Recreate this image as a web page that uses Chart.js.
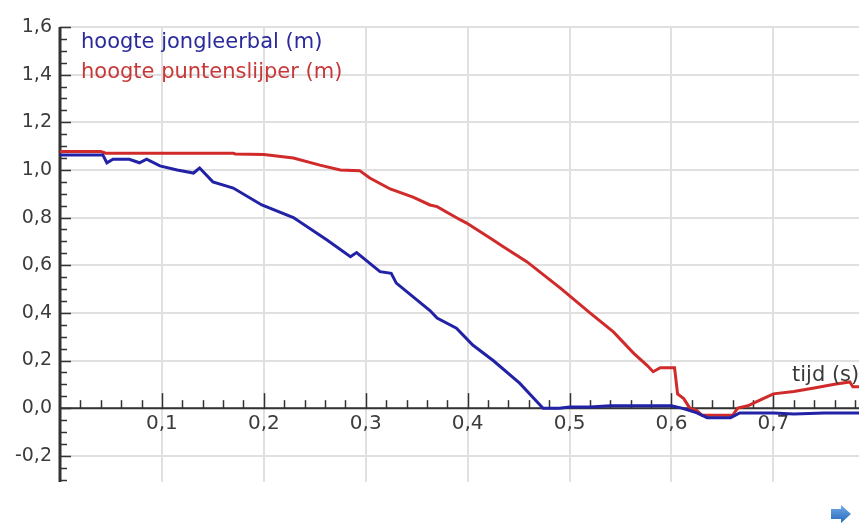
<!DOCTYPE html>
<html>
<head>
<meta charset="utf-8">
<script src="https://cdn.jsdelivr.net/npm/chart.js@4.4.1/dist/chart.umd.min.js"></script>
<style>
  html, body { margin: 0; padding: 0; background: #fff; }
  #wrap { width: 859px; height: 526px; }
</style>
</head>
<body>
<div id="wrap"><canvas id="valChart"></canvas></div>
<script>
// tijd (s) van de metingen
var tBal = [0, 0.042, 0.046, 0.052, 0.068, 0.078, 0.085, 0.098, 0.115, 0.131, 0.137, 0.15, 0.17, 0.198,
    0.229, 0.262, 0.285, 0.291, 0.314, 0.325, 0.33, 0.363, 0.37, 0.389, 0.405, 0.425, 0.451, 0.474, 0.49,
    0.5, 0.52, 0.54, 0.57, 0.6, 0.61, 0.618, 0.625, 0.635, 0.658, 0.667, 0.7, 0.72, 0.75, 0.77, 0.784];
var hBal = [1.063, 1.063, 1.03, 1.045, 1.045, 1.03, 1.045, 1.017, 1.0, 0.987, 1.008, 0.95, 0.924, 0.853,
    0.80, 0.706, 0.636, 0.653, 0.573, 0.566, 0.525, 0.41, 0.378, 0.336, 0.265, 0.2, 0.105, 0.0, 0.0,
    0.005, 0.005, 0.01, 0.01, 0.01, 0.0, -0.01, -0.02, -0.04, -0.04, -0.02, -0.02, -0.025, -0.02, -0.02, -0.02];

var tSlijper = [0, 0.04, 0.045, 0.17, 0.172, 0.2, 0.229, 0.255, 0.275, 0.294, 0.304, 0.324, 0.347, 0.363,
    0.37, 0.393, 0.399, 0.425, 0.435, 0.458, 0.491, 0.52, 0.543, 0.563, 0.576, 0.582, 0.589, 0.603, 0.606,
    0.612, 0.618, 0.625, 0.63, 0.66, 0.665, 0.675, 0.68, 0.69, 0.7, 0.72, 0.74, 0.76, 0.775, 0.778, 0.784];
var hSlijper = [1.077, 1.077, 1.07, 1.07, 1.067, 1.065, 1.05, 1.02, 1.0, 0.997, 0.966, 0.92, 0.885, 0.853,
    0.846, 0.79, 0.777, 0.706, 0.678, 0.615, 0.504, 0.40, 0.32, 0.23, 0.18, 0.153, 0.17, 0.17, 0.06,
    0.04, 0.0, -0.01, -0.03, -0.03, 0.0, 0.01, 0.02, 0.04, 0.06, 0.07, 0.085, 0.10, 0.11, 0.09, 0.09];

var xTicks = [0.1, 0.2, 0.3, 0.4, 0.5, 0.6, 0.7];
var yTicks = [-0.2, 0, 0.2, 0.4, 0.6, 0.8, 1.0, 1.2, 1.4, 1.6];
var labelBal = 'hoogte jongleerbal (m)';
var labelSlijper = 'hoogte puntenslijper (m)';
var xTitle = 'tijd (s)';

var blue = '#2222a6';
var red = '#d02a2a';
var fontFam = '"DejaVu Sans", sans-serif';

function toPoints(ts, hs) {
    return ts.map((t, i) => ({ x: t, y: hs[i] }));
}

function komma(v) {
    return Number(v).toFixed(1).replace('.', ',');
}

// assen, streepjes, legenda en as-titel zelf tekenen
var axisPlugin = {
    id: 'axisPlugin',
    beforeDatasetsDraw(chart) {
        var c = chart.ctx, xs = chart.scales.x, ys = chart.scales.y, a = chart.chartArea;
        var y0 = ys.getPixelForValue(0), x0 = xs.getPixelForValue(0);
        c.save();
        c.strokeStyle = '#333';
        // x-as
        c.lineWidth = 2;
        c.beginPath(); c.moveTo(a.left, y0); c.lineTo(a.right, y0); c.stroke();
        c.lineWidth = 1.5;
        for (var i = 1; i * 0.02 <= xs.max; i++) {
            var px = Math.round(xs.getPixelForValue(i * 0.02)) + 0.5;
            var len = (i % 5 === 0) ? 15 : 8;
            c.beginPath(); c.moveTo(px, y0); c.lineTo(px, y0 - len); c.stroke();
        }
        // y-as
        c.lineWidth = 3;
        c.beginPath(); c.moveTo(x0, a.top); c.lineTo(x0, a.bottom); c.stroke();
        c.lineWidth = 1.5;
        for (var j = -6; j * 0.05 <= ys.max + 0.001; j++) {
            var py = Math.round(ys.getPixelForValue(j * 0.05)) + 0.5;
            var l2 = (j % 4 === 0) ? 11 : 7;
            c.beginPath(); c.moveTo(x0, py); c.lineTo(x0 + l2, py); c.stroke();
        }
        c.restore();
    },
    afterDraw(chart) {
        var c = chart.ctx, ys = chart.scales.y;
        c.save();
        c.font = '21px ' + fontFam;
        c.textBaseline = 'middle';
        c.textAlign = 'left';
        c.fillStyle = '#2a2a9c';
        c.fillText(chart.data.datasets[0].label, 81, 43);
        c.fillStyle = '#c83838';
        c.fillText(chart.data.datasets[1].label, 81, 73);
        c.fillStyle = '#3a3a3a';
        c.fillText(xTitle, 792, ys.getPixelForValue(0.135));
        // blauwe pijl rechtsonder
        var g = c.createLinearGradient(0, 506, 0, 522);
        g.addColorStop(0, '#6aa6e6');
        g.addColorStop(1, '#2c6cbc');
        c.fillStyle = g;
        c.beginPath();
        c.moveTo(831, 509); c.lineTo(841, 509); c.lineTo(841, 505); c.lineTo(851, 514);
        c.lineTo(841, 523); c.lineTo(841, 519); c.lineTo(831, 519); c.closePath();
        c.fill();
        c.restore();
    }
};

var ctx = document.getElementById('valChart').getContext('2d');
var valChart = new Chart(ctx, {
    type: 'scatter',
    data: {
        datasets: [{
            label: labelBal,
            data: toPoints(tBal, hBal),
            borderColor: blue,
            backgroundColor: blue,
            borderWidth: 3,
            showLine: true,
            pointRadius: 0,
            tension: 0
        }, {
            label: labelSlijper,
            data: toPoints(tSlijper, hSlijper),
            borderColor: red,
            backgroundColor: red,
            borderWidth: 3,
            showLine: true,
            pointRadius: 0,
            tension: 0
        }]
    },
    options: {
        responsive: true,
        maintainAspectRatio: false,
        animation: false,
        layout: { padding: { top: 27, bottom: 44, left: 0, right: 0 } },
        plugins: {
            legend: { display: false },
            tooltip: { enabled: false }
        },
        scales: {
            x: {
                type: 'linear',
                min: 0,
                max: 0.784,
                position: { y: 0 },
                afterFit: s => { s.height = 0; },
                afterBuildTicks: s => { s.ticks = xTicks.map(v => ({ value: v })); },
                border: { display: false },
                grid: { color: '#e0e0e0', lineWidth: 2, drawTicks: false },
                ticks: {
                    padding: 4,
                    color: '#3c3c3c',
                    font: { family: fontFam, size: 20 },
                    maxRotation: 0,
                    callback: v => komma(v)
                }
            },
            y: {
                type: 'linear',
                min: -0.31,
                max: 1.6,
                afterFit: s => { s.width = 60; },
                afterBuildTicks: s => { s.ticks = yTicks.map(v => ({ value: v })); },
                border: { display: false },
                grid: { color: '#e0e0e0', lineWidth: 2, drawTicks: false },
                ticks: {
                    padding: 8,
                    color: '#3c3c3c',
                    font: { family: fontFam, size: 19 },
                    callback: v => komma(v)
                }
            }
        }
    },
    plugins: [axisPlugin]
});
</script>
</body>
</html>
